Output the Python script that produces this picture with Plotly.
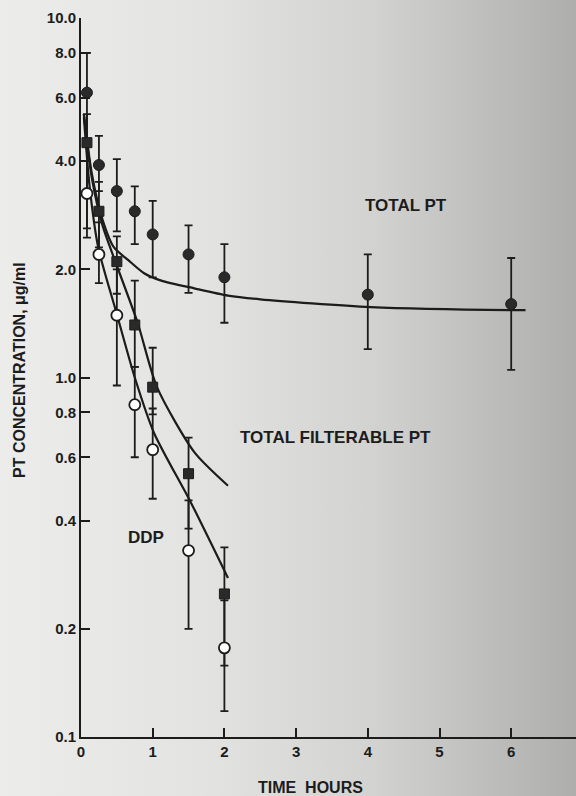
import base64
import plotly.graph_objects as go

# Sampling times (hours)
hours = [0.083, 0.25, 0.5, 0.75, 1.0, 1.5, 2.0, 4.0, 6.0]
hours_short = [0.083, 0.25, 0.5, 0.75, 1.0, 1.5, 2.0]

# Total platinum, mean with upper/lower error limits (ug/ml)
total_pt = [6.2, 3.9, 3.3, 2.9, 2.5, 2.2, 1.9, 1.7, 1.6]
total_pt_hi = [8.0, 4.7, 4.05, 3.4, 3.1, 2.65, 2.35, 2.2, 2.15]
total_pt_lo = [4.6, 3.3, 2.55, 2.35, 1.9, 1.72, 1.42, 1.2, 1.05]

# Total filterable platinum
filterable = [4.5, 2.9, 2.1, 1.4, 0.94, 0.54, 0.25]
filterable_hi = [5.4, 3.5, 2.47, 1.86, 1.21, 0.68, 0.337]
filterable_lo = [2.45, 2.3, 1.71, 1.07, 0.79, 0.38, 0.158]

# Intact DDP
ddp = [3.25, 2.2, 1.49, 0.84, 0.63, 0.33, 0.177]
ddp_hi = [4.0, 2.7, 2.0, 1.07, 0.82, 0.455, 0.24]
ddp_lo = [2.6, 1.83, 0.95, 0.6, 0.46, 0.2, 0.118]

# Fitted decay curves
total_fit_t = [0.04, 0.15, 0.3, 0.46, 0.66, 0.88, 1.12, 1.58, 2.05, 2.5, 4.04, 6.02, 6.2]
total_fit_c = [5.4, 3.7, 2.75, 2.3, 2.12, 1.95, 1.86, 1.77, 1.69, 1.65, 1.57, 1.54, 1.54]
filt_fit_t = [0.04, 0.15, 0.3, 0.46, 0.79, 1.06, 1.58, 2.05]
filt_fit_c = [5.4, 3.6, 2.65, 2.15, 1.42, 0.94, 0.62, 0.5]
ddp_fit_t = [0.04, 0.12, 0.24, 0.5, 0.75, 1.02, 1.53, 2.05]
ddp_fit_c = [5.3, 3.4, 2.3, 1.5, 1.0, 0.70, 0.45, 0.277]

y_tickvals = [0.1, 0.2, 0.4, 0.6, 0.8, 1, 2, 4, 6, 8, 10]
y_ticktext = ["0.1", "0.2", "0.4", "0.6", "0.8", "1.0", "2.0", "4.0", "6.0", "8.0", "10.0"]
x_tickvals = [0, 1, 2, 3, 4, 5, 6]

INK = "#1c1c1c"
FONT = "Liberation Sans"

W, H = 576, 796
ML, MR, MT, MB = 81, 0, 18, 59
PW, PH = W - ML - MR, H - MT - MB


def err(mean, hi, lo):
    return dict(type="data", symmetric=False,
                array=[h - m for h, m in zip(hi, mean)],
                arrayminus=[m - l for m, l in zip(mean, lo)],
                color=INK, thickness=1.8, width=4)


fig = go.Figure()

line_style = dict(color=INK, width=2.2, shape="spline", smoothing=0.7)
fig.add_trace(go.Scatter(x=total_fit_t, y=total_fit_c, mode="lines", line=line_style))
fig.add_trace(go.Scatter(x=filt_fit_t, y=filt_fit_c, mode="lines", line=line_style))
fig.add_trace(go.Scatter(x=ddp_fit_t, y=ddp_fit_c, mode="lines", line=line_style))

fig.add_trace(go.Scatter(
    x=hours, y=total_pt, mode="markers", error_y=err(total_pt, total_pt_hi, total_pt_lo),
    marker=dict(symbol="circle", size=11, color="#2a2a2a", line=dict(color=INK, width=1))))
fig.add_trace(go.Scatter(
    x=hours_short, y=filterable, mode="markers", error_y=err(filterable, filterable_hi, filterable_lo),
    marker=dict(symbol="square", size=10, color="#2a2a2a", line=dict(color=INK, width=1))))
fig.add_trace(go.Scatter(
    x=hours_short, y=ddp, mode="markers", error_y=err(ddp, ddp_hi, ddp_lo),
    marker=dict(symbol="circle", size=11, color="white", line=dict(color=INK, width=1.8))))

# curve labels
label_font = dict(family=FONT, size=17, color=INK, weight=700)
centered = dict(showarrow=False, xanchor="center", yanchor="middle")
fig.add_annotation(x=4.53, y=0.478, xref="x", yref="y", text="TOTAL PT",
                   font=label_font, **centered)
fig.add_annotation(x=3.55, y=-0.167, xref="x", yref="y", text="TOTAL FILTERABLE PT",
                   font=label_font, **centered)
fig.add_annotation(x=0.91, y=-0.445, xref="x", yref="y", text="DDP",
                   font=label_font, **centered)

# axis titles
fig.add_annotation(x=(20 - ML) / PW, y=(MT + PH - 370) / PH, xref="paper", yref="paper",
                   text="PT CONCENTRATION, \u03bcg/ml", textangle=-90,
                   font=dict(family=FONT, size=16, color=INK, weight=700), **centered)
fig.add_annotation(x=(310 - ML) / PW, y=(MT + PH - 787) / PH, xref="paper", yref="paper",
                   text="TIME  HOURS",
                   font=dict(family=FONT, size=16, color=INK, weight=700), **centered)

# paper tone
svg = (
    f'<svg xmlns="http://www.w3.org/2000/svg" width="{W}" height="{H}">'
    '<defs><linearGradient id="g" x1="0" y1="0" x2="1" y2="0">'
    '<stop offset="0" stop-color="#ececea"/>'
    '<stop offset="0.35" stop-color="#e3e3e1"/>'
    '<stop offset="0.65" stop-color="#d2d2d0"/>'
    '<stop offset="1" stop-color="#aeaeac"/>'
    '</linearGradient></defs>'
    f'<rect width="{W}" height="{H}" fill="url(#g)"/></svg>'
)
src = "data:image/svg+xml;base64," + base64.b64encode(svg.encode()).decode()
fig.add_layout_image(source=src, xref="paper", yref="paper",
                     x=-ML / PW, y=1 + MT / PH, sizex=W / PW, sizey=H / PH,
                     xanchor="left", yanchor="top", sizing="stretch", layer="below")

axis_common = dict(showgrid=False, zeroline=False, showline=True, linecolor=INK, linewidth=2,
                   ticks="inside", ticklen=9, tickwidth=2, tickcolor=INK,
                   tickfont=dict(family=FONT, size=15, color=INK, weight=700), mirror=False)

fig.update_xaxes(range=[0, (W - ML) / 71.7], tickvals=x_tickvals,
                 ticktext=[str(v) for v in x_tickvals], **axis_common)
fig.update_yaxes(type="log", range=[-1, 1], tickvals=y_tickvals, ticktext=y_ticktext,
                 **axis_common)

fig.update_layout(
    width=W, height=H, margin=dict(l=ML, r=MR, t=MT, b=MB),
    showlegend=False, paper_bgcolor="#dcdcda", plot_bgcolor="rgba(0,0,0,0)",
)

fig.write_html("out.html")
